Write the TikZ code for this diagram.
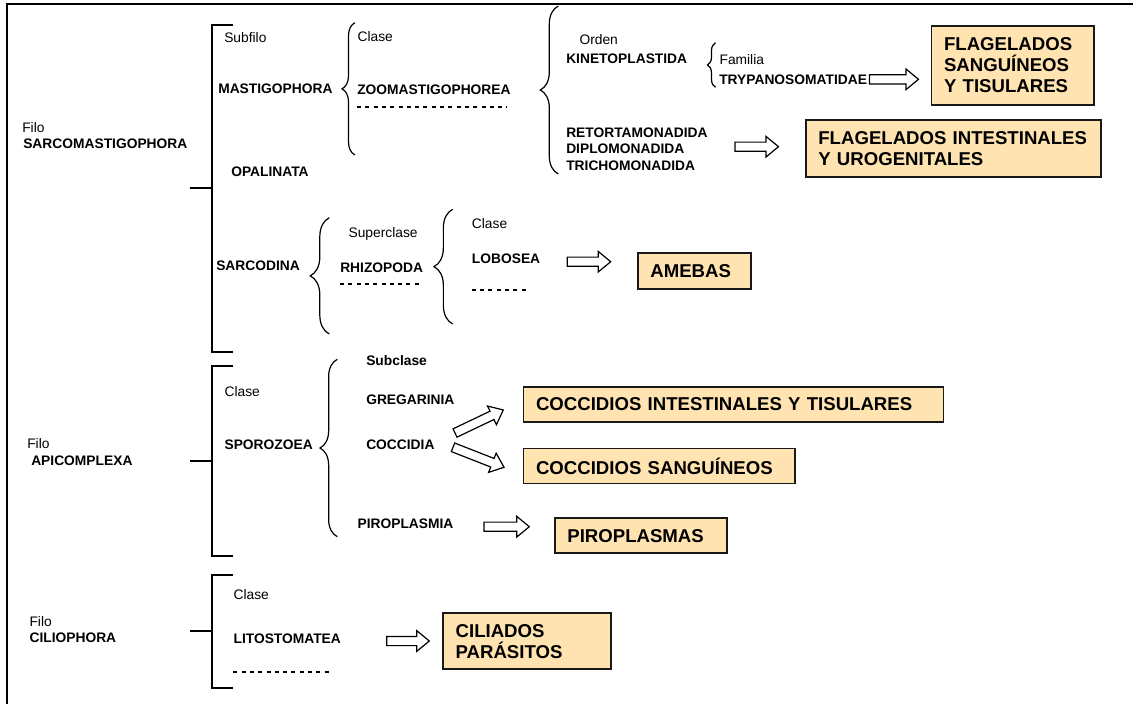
\documentclass[tikz,border=0pt]{standalone}
\usepackage{fontspec}
\setmainfont{Liberation Sans}
\usetikzlibrary{decorations.pathreplacing}
\newdimen\pxu \pxu=0.75pt
\definecolor{boxfill}{RGB}{255,228,178}
\definecolor{ink}{RGB}{25,25,25}
\tikzset{
  lab/.style={anchor=base west, inner sep=0pt, yshift=-4.95\pxu, font=\fontsize{10.35}{12}\selectfont},
  nm/.style={anchor=base west, inner sep=0pt, yshift=-4.95\pxu, font=\fontsize{10.35}{12}\selectfont\bfseries},
  brk/.style={line width=1.5pt},
  brc/.style={line width=0.9pt, decorate, decoration={brace, amplitude=#1\pxu}},
  dsh/.style={line width=1.4pt, dash pattern=on 4\pxu off 4.3\pxu},
  bx/.style={draw=ink, line width=1.3pt, fill=boxfill, font=\fontsize{13.95}{15.75}\selectfont\bfseries, align=left, inner xsep=12.5\pxu, inner ysep=0pt, anchor=north west},
  pics/harrow/.style={code={\draw[line width=0.9pt, fill=white] (0,-4.6) -- (#1-12.5,-4.6) -- (#1-12.5,-10.3) -- (#1,0) -- (#1-12.5,10.3) -- (#1-12.5,4.6) -- (0,4.6) -- cycle;}}
}
\begin{document}
\begin{tikzpicture}[x=0.75pt,y=-0.75pt]
\useasboundingbox (0,0) rectangle (1133,704);
% frame
\draw[line width=1.5pt] (7,704) -- (7,4) -- (1133,4);

% ---------- Filo SARCOMASTIGOPHORA
\node[lab] (filo1) at (22,127.7) {Filo};
\node[nm] (sarco) at (23,144) {SARCOMASTIGOPHORA};
\coordinate (b1t) at (233,25); \coordinate (b1b) at (233,352);
\coordinate (b1m) at (212,188); \coordinate (b1l) at (190,188);
\draw[brk] (b1t) -- (212,25) -- (212,352) -- (b1b);
\draw[brk] (b1l) -- (b1m);

\node[lab] (subfilo) at (224,37.7) {Subfilo};
\node[nm] (masti) at (218,88.3) {MASTIGOPHORA};
\node[nm] (opal) at (231,172) {OPALINATA};

\draw[brc=13] (355,155) -- (355,22.7);
\node[lab] (clase1) at (357.3,36.7) {Clase};
\node[nm] (zoo) at (357,90) {ZOOMASTIGOPHOREA};
\draw[dsh] (357,107.3) -- (507,107.3);

\draw[brc=18] (558.3,174) -- (558.3,6);
\node[lab] (orden) at (579.3,39.3) {Orden};
\node[nm] (kine) at (566,58.3) {KINETOPLASTIDA};
\draw[brc=8] (715.5,87.3) -- (715.5,42.7);
\node[lab] (familia) at (719.3,59.3) {Familia};
\node[nm] (trypa) at (719,79.3) {TRYPANOSOMATIDAE};
\pic (ar1) at (869.5,79.3) {harrow=49};
\node[bx, minimum width=162.6\pxu, minimum height=79\pxu, text width=137.6\pxu] (fsang) at (930.7,25) {FLAGELADOS\\SANGUÍNEOS\\Y TISULARES};

\node[nm] (reto) at (566,132.7) {RETORTAMONADIDA};
\node[nm] (diplo) at (566,149) {DIPLOMONADIDA};
\node[nm] (tricho) at (566,165.7) {TRICHOMONADIDA};
\pic (ar2) at (735,146.7) {harrow=43.5};
\node[bx, minimum width=295\pxu, minimum height=56.7\pxu, text width=270\pxu] (fint) at (805,119.3) {FLAGELADOS INTESTINALES\\Y UROGENITALES};

% Sarcodina
\node[nm] (sarcod) at (216,266) {SARCODINA};
\draw[brc=19] (329.3,334) -- (329.3,217.7);
\node[lab] (superc) at (348.3,232.3) {Superclase};
\node[nm] (rhizo) at (340,267.3) {RHIZOPODA};
\draw[dsh] (340,284) -- (421,284);
\draw[brc=18.7] (452.7,324) -- (452.7,209.3);
\node[lab] (clase2) at (471.7,223.3) {Clase};
\node[nm] (lobo) at (471.7,258.3) {LOBOSEA};
\draw[dsh] (471.7,290) -- (529,290);
\pic (ar3) at (567.3,261.7) {harrow=43.4};
\node[bx, minimum width=113\pxu, minimum height=36\pxu, text width=88\pxu] (amebas) at (637,252) {AMEBAS};

% ---------- Filo APICOMPLEXA
\node[lab] (filo2) at (27,444) {Filo};
\node[nm] (apic) at (31,461) {APICOMPLEXA};
\coordinate (b2t) at (233,366); \coordinate (b2b) at (233,556);
\coordinate (b2m) at (212,460.7); \coordinate (b2l) at (190,460.7);
\draw[brk] (b2t) -- (212,366) -- (212,556) -- (b2b);
\draw[brk] (b2l) -- (b2m);
\node[lab] (clase3) at (224.3,391.7) {Clase};
\node[nm] (sporo) at (224.3,444.3) {SPOROZOEA};
\draw[brc=17.3] (337.3,536.7) -- (337.3,359.3);
\node[nm] (subcl) at (366,361) {Subclase};
\node[nm] (grega) at (366,399.3) {GREGARINIA};
\node[nm] (cocci) at (366,444.3) {COCCIDIA};
\node[nm] (piro) at (357.3,524) {PIROPLASMIA};
\pic[rotate=25.5] (ar4) at (455,433) {harrow=53.5};
\pic[rotate=-21.4] (ar5) at (453,447.3) {harrow=54.8};
\pic (ar6) at (484,526.7) {harrow=45.3};
\node[bx, minimum width=420\pxu, minimum height=35\pxu, text width=395\pxu] (cit) at (522.7,386) {COCCIDIOS INTESTINALES Y TISULARES};
\node[bx, minimum width=271.6\pxu, minimum height=35\pxu, text width=246.6\pxu] (csang) at (522.7,447.7) {COCCIDIOS SANGUÍNEOS};
\node[bx, minimum width=172\pxu, minimum height=35\pxu, text width=147\pxu] (piros) at (554,517.3) {PIROPLASMAS};

% ---------- Filo CILIOPHORA
\node[lab] (filo3) at (29.3,621.5) {Filo};
\node[nm] (cilio) at (29.3,637.5) {CILIOPHORA};
\coordinate (b3t) at (233,575); \coordinate (b3b) at (233,688);
\coordinate (b3m) at (212,631); \coordinate (b3l) at (190,631);
\draw[brk] (b3t) -- (212,575) -- (212,688) -- (b3b);
\draw[brk] (b3l) -- (b3m);
\node[lab] (clase4) at (233.3,595) {Clase};
\node[nm] (lito) at (233.3,638.3) {LITOSTOMATEA};
\draw[dsh] (233.3,671.7) -- (332,671.7);
\pic (ar7) at (386.7,641) {harrow=42.6};
\node[bx, minimum width=168\pxu, minimum height=56\pxu, text width=143\pxu] (cilp) at (442.3,612.3) {CILIADOS\\PARÁSITOS};
\end{tikzpicture}
\end{document}
